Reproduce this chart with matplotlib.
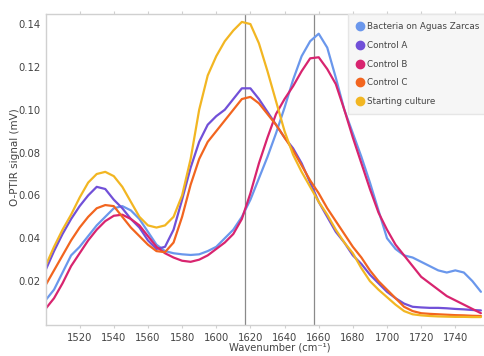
import matplotlib
matplotlib.use("Agg")
import matplotlib.pyplot as plt
from matplotlib.lines import Line2D
import numpy as np

wavenumber = list(range(1500, 1760, 5))

bacteria = [0.011, 0.016, 0.024, 0.032, 0.036, 0.041, 0.046, 0.050, 0.054, 0.055,
            0.053, 0.049, 0.043, 0.037, 0.034, 0.033, 0.0325, 0.0322, 0.0325, 0.034,
            0.036, 0.040, 0.044, 0.050, 0.058, 0.068, 0.078, 0.089, 0.101, 0.114,
            0.125, 0.132, 0.1355, 0.129, 0.115, 0.100, 0.089, 0.078, 0.066, 0.053,
            0.040, 0.035, 0.032, 0.031, 0.029, 0.027, 0.025, 0.024, 0.025, 0.024,
            0.020, 0.015]

control_a = [0.025, 0.034, 0.042, 0.049, 0.055, 0.060, 0.064, 0.063, 0.058, 0.054,
             0.049, 0.045, 0.039, 0.035, 0.036, 0.044, 0.058, 0.073, 0.085, 0.093,
             0.097, 0.100, 0.105, 0.110, 0.110, 0.105, 0.099, 0.093, 0.087, 0.082,
             0.075, 0.066, 0.057, 0.050, 0.043, 0.038, 0.032, 0.028, 0.023, 0.019,
             0.015, 0.012, 0.0095, 0.008, 0.0077, 0.0075, 0.0075, 0.0073, 0.007, 0.0068,
             0.0065, 0.0063]

control_b = [0.007, 0.012, 0.019, 0.027, 0.033, 0.039, 0.044, 0.048, 0.0505, 0.051,
             0.049, 0.046, 0.041, 0.036, 0.033, 0.031, 0.0295, 0.029, 0.030, 0.032,
             0.035, 0.038, 0.042, 0.049, 0.061, 0.075, 0.087, 0.098, 0.105, 0.111,
             0.118, 0.124, 0.1245, 0.119, 0.112, 0.100, 0.087, 0.075, 0.063, 0.052,
             0.044, 0.037, 0.032, 0.027, 0.022, 0.019, 0.016, 0.013, 0.011, 0.009,
             0.007, 0.005]

control_c = [0.018, 0.025, 0.032, 0.039, 0.045, 0.050, 0.054, 0.0555, 0.055, 0.050,
             0.045, 0.041, 0.037, 0.034, 0.0335, 0.038, 0.050, 0.065, 0.077, 0.085,
             0.090, 0.095, 0.100, 0.105, 0.106, 0.103, 0.098, 0.093, 0.087, 0.081,
             0.074, 0.067, 0.061, 0.054, 0.048, 0.042, 0.036, 0.031, 0.025, 0.020,
             0.016, 0.012, 0.008, 0.006, 0.005, 0.0047, 0.0045, 0.0043, 0.0041, 0.004,
             0.0038, 0.0037]

starting = [0.027, 0.036, 0.044, 0.051, 0.059, 0.066, 0.070, 0.071, 0.069, 0.064,
            0.057, 0.050, 0.046, 0.045, 0.046, 0.050, 0.060, 0.077, 0.100, 0.116,
            0.125, 0.132, 0.137, 0.141, 0.140, 0.131, 0.118, 0.104, 0.090, 0.079,
            0.071, 0.064, 0.057, 0.051, 0.044, 0.038, 0.033, 0.026, 0.020, 0.016,
            0.0125, 0.009, 0.006, 0.0045, 0.004, 0.0037, 0.0035, 0.0034, 0.0033, 0.0033,
            0.0032, 0.0032]

labels = ["Bacteria on Aguas Zarcas", "Control A", "Control B", "Control C", "Starting culture"]
colors = ["#6A97EC", "#7150D8", "#D8246F", "#F2651F", "#F2B622"]
series = [bacteria, control_a, control_b, control_c, starting]
vlines = [1617, 1657]
xticks = [1520, 1540, 1560, 1580, 1600, 1620, 1640, 1660, 1680, 1700, 1720, 1740]
yticks = [0.02, 0.04, 0.06, 0.08, 0.10, 0.12, 0.14]

fig = plt.figure(figsize=(4.84, 3.56), dpi=100)
ax = fig.add_axes([46/484, 1-325/356, 1-46/484, (325-14)/356])

for xv in vlines:
    ax.axvline(xv, color="#8a8a8a", lw=0.9, zorder=1)

for s, c in zip(series, colors):
    ax.plot(wavenumber, s, color=c, lw=1.6, zorder=2, solid_capstyle="round")

ax.set_xlim(1500.3, 1756.8)
ax.set_ylim(-0.0005, 0.1447)
ax.set_xticks(xticks)
ax.set_yticks(yticks)
ax.set_yticklabels([f"{v:.2f}" for v in yticks])
ax.tick_params(axis="both", labelsize=7.2, colors="#444444", length=0, pad=4)
ax.tick_params(axis="x", top=True, length=2, direction="out", color="#d0d0d0")
for sp in ["left", "top", "bottom"]:
    ax.spines[sp].set_color("#d0d0d0")
    ax.spines[sp].set_linewidth(1.0)
ax.spines["right"].set_visible(False)

ax.set_xlabel("Wavenumber (cm⁻¹)", fontsize=7.2, color="#444444")
ax.set_ylabel("O-PTIR signal (mV)", fontsize=7.5, color="#444444")
ax.xaxis.set_label_coords((280-46)/438, -(348-325)/311)
ax.yaxis.set_label_coords((15-46)/438, (325-157)/311)
ax.xaxis.label.set_va("center")
ax.yaxis.label.set_va("center")

handles = [Line2D([], [], marker="o", linestyle="none", markersize=6,
                  markerfacecolor=c, markeredgecolor=c) for c in colors]
leg = fig.legend(handles, labels, loc="upper left",
                 bbox_to_anchor=(348/484, 1-14/356), fontsize=6.3,
                 frameon=True, fancybox=False, facecolor="#f6f6f6",
                 edgecolor="#e6e6e6", framealpha=1, handlelength=0.8,
                 handletextpad=0.45, labelspacing=1.1, borderpad=0.95,
                 borderaxespad=0)
for t in leg.get_texts():
    t.set_color("#444444")

fig.savefig("out.png", dpi=100)
